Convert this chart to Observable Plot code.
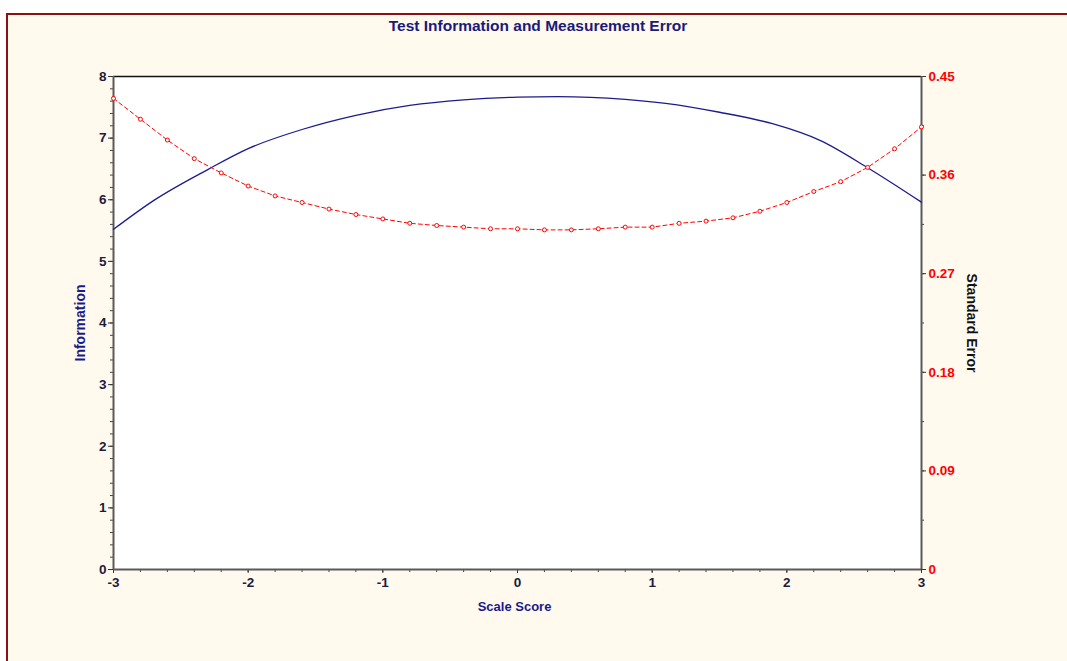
<!DOCTYPE html>
<html><head><meta charset="utf-8">
<script src="https://cdn.jsdelivr.net/npm/d3@7"></script>
<script src="https://cdn.jsdelivr.net/npm/@observablehq/plot@0.6"></script>
<style>
html,body{margin:0;padding:0;background:#fff;width:1067px;height:661px;overflow:hidden;}
#panel{position:absolute;left:6px;top:13px;width:1100px;height:700px;background:#FFF9EE;border-left:2px solid #8B1010;border-top:2px solid #8B1010;}
#title{position:absolute;left:0;width:1076px;top:17px;line-height:17px;text-align:center;font:bold 15.5px "Liberation Sans",Arial,sans-serif;color:#1a1a7a;}
#chart{position:absolute;left:0;top:40px;}
</style></head><body>
<div id="panel"></div>
<div id="title">Test Information and Measurement Error</div>
<div id="chart"></div>
<script>
// Information curve (left axis)
const scoreInfo = [-3, -2.7, -2.3, -2.0, -1.6, -1.2, -0.8, -0.4, 0, 0.3, 0.8, 1.1, 1.5, 1.9, 2.25, 2.6, 3.0];
const information = [5.52, 5.99, 6.49, 6.83, 7.14, 7.37, 7.53, 7.62, 7.665, 7.675, 7.63, 7.565, 7.42, 7.23, 6.96, 6.52, 5.96];
// Standard error curve (right axis)
const scoreSE = [-3.0, -2.8, -2.6, -2.4, -2.2, -2.0, -1.8, -1.6, -1.4, -1.2, -1.0, -0.8, -0.6, -0.4, -0.2, 0.0,
                 0.2, 0.4, 0.6, 0.8, 1.0, 1.2, 1.4, 1.6, 1.8, 2.0, 2.2, 2.4, 2.6, 2.8, 3.0];
const standardError = [0.430, 0.411, 0.392, 0.375, 0.362, 0.350, 0.341, 0.335, 0.329, 0.324, 0.320, 0.316, 0.314, 0.3125, 0.311, 0.311,
                       0.310, 0.310, 0.311, 0.3125, 0.3125, 0.316, 0.318, 0.321, 0.327, 0.335, 0.345, 0.354, 0.367, 0.384, 0.404];
// Tick labels
const xTicks = [-3, -2, -1, 0, 1, 2, 3];
const infoTicks = [0, 1, 2, 3, 4, 5, 6, 7, 8];
const seTicks = [0, 0.09, 0.18, 0.27, 0.36, 0.45];
const seTickLabels = ["0", "0.09", "0.18", "0.27", "0.36", "0.45"];

const infoMax = 8, seMax = 0.45;
const toY = v => v * infoMax / seMax;

const infoData = scoreInfo.map((x, i) => ({x, v: information[i]}));
const seData = scoreSE.map((x, i) => ({x, se: standardError[i]}));

const xMinor = d3.range(-3, 3.0001, 0.2);
const infoMinor = d3.range(0, 8.0001, 0.2);
const seMinor = d3.range(0, 0.4501, 0.045).map(toY);
const seMajorPos = seTicks.map(toY);
const seLabelOf = d => seTickLabels[seMajorPos.findIndex(p => Math.abs(p - d) < 1e-6)] ?? "";
const plainNum = d => String(d);

const tickColor = "#1c1c3c";
const font = '"Liberation Sans", Arial, sans-serif';
const tickFont = 13.5;

const chart = Plot.plot({
  width: 1067,
  height: 621,
  marginLeft: 113,
  marginRight: 146,
  marginTop: 36,
  marginBottom: 92,
  style: {background: "transparent", fontFamily: font, fontWeight: "bold", fontSize: "13.5px", overflow: "visible"},
  x: {domain: [-3, 3], axis: null},
  y: {domain: [0, 8], axis: null},
  marks: [
    Plot.frame({fill: "white", stroke: "none"}),
    // minor ticks
    Plot.axisX(xMinor, {anchor: "bottom", tickSize: 3, tickFormat: () => "", stroke: "#444", label: null}),
    Plot.axisY(infoMinor, {anchor: "left", tickSize: 3, tickFormat: () => "", stroke: "#444", label: null}),
    Plot.axisY(seMinor, {anchor: "right", tickSize: 2, tickFormat: () => "", stroke: "#444", label: null}),
    // major ticks and labels
    Plot.axisX(xTicks, {anchor: "bottom", tickSize: 4, tickPadding: 4, stroke: "#333", fill: tickColor, tickFormat: plainNum, fontSize: tickFont, fontWeight: "bold", label: null}),
    Plot.axisY(infoTicks, {anchor: "left", tickSize: 5, tickPadding: 2, stroke: "#333", fill: tickColor, tickFormat: plainNum, fontSize: tickFont, fontWeight: "bold", label: null}),
    Plot.axisY(seMajorPos, {anchor: "right", tickSize: 4, tickPadding: 3, stroke: "#333", fill: "#ff0000", tickFormat: seLabelOf, fontSize: tickFont, fontWeight: "bold", label: null}),
    // axis lines
    Plot.ruleY([8], {stroke: "#111", strokeWidth: 1.5}),
    Plot.ruleY([0], {stroke: "#5a5a5a", strokeWidth: 2}),
    Plot.ruleX([-3], {stroke: "#5a5a5a", strokeWidth: 2}),
    Plot.ruleX([3], {stroke: "#5a5a5a", strokeWidth: 2}),
    // data
    Plot.line(infoData, {x: "x", y: "v", stroke: "#1c1c8c", strokeWidth: 1.3, curve: "monotone-x"}),
    Plot.line(seData, {x: "x", y: d => toY(d.se), stroke: "#ff0000", strokeWidth: 1, strokeDasharray: "4,3"}),
    Plot.dot(seData, {x: "x", y: d => toY(d.se), r: 2, stroke: "#ff0000", fill: "white", strokeWidth: 1}),
    // axis titles
    Plot.text(["Scale Score"], {frameAnchor: "bottom", dy: 37, dx: -3, textAnchor: "middle", lineAnchor: "middle", fill: "#1a1a8a", fontSize: 13, fontWeight: "bold"}),
    Plot.text(["Information"], {frameAnchor: "left", dx: -33, rotate: -90, textAnchor: "middle", lineAnchor: "middle", fill: "#1a1a8a", fontSize: 14, fontWeight: "bold"}),
    Plot.text(["Standard Error"], {frameAnchor: "right", dx: 50, rotate: 90, textAnchor: "middle", lineAnchor: "middle", fill: "#111", fontSize: 14, fontWeight: "bold"})
  ]
});
document.getElementById("chart").appendChild(chart);
</script>
</body></html>
